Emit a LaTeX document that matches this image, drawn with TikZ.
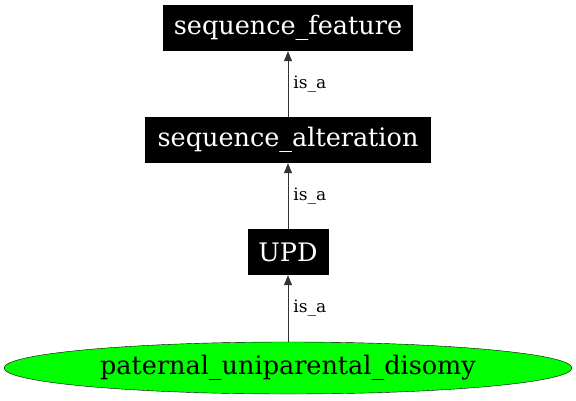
\documentclass[tikz,border=0pt]{standalone}
\usepackage{fontspec}
\setmainfont{DejaVu Serif}
\usetikzlibrary{arrows.meta,shapes.geometric}
\tikzset{
  termbox/.style={rectangle, fill=black, text=white, inner sep=0pt, minimum height=46pt, font=\fontsize{25.5}{30}\selectfont},
  termell/.style={ellipse, draw=black, fill={rgb,255:red,0;green,255;blue,0}, inner sep=0pt, minimum width=568pt, minimum height=52pt, font=\fontsize{25.5}{30}\selectfont},
  isa/.style={draw=black!80, line width=0.9pt, -{Triangle[length=10pt,width=8pt]}},
  lab/.style={font=\fontsize{17}{20}\selectfont, anchor=west, inner sep=0pt}
}
\begin{document}
\begin{tikzpicture}[x=1pt,y=-1pt]
\useasboundingbox (0,0) rectangle (576,400);
\node[termbox, minimum width=250pt] (sf) at (288,28) {sequence\_feature};
\node[termbox, minimum width=286pt] (sa) at (288,140) {sequence\_alteration};
\node[termbox, minimum width=81pt] (upd) at (288,252) {UPD};
\node[termell] (pud) at (288,368) {paternal\_uniparental\_disomy};
\draw[isa] (sa.north) -- node[lab, xshift=5pt] {is\_a} (sf.south);
\draw[isa] (upd.north) -- node[lab, xshift=5pt] {is\_a} (sa.south);
\draw[isa] (pud.north) -- node[lab, xshift=5pt] {is\_a} (upd.south);
\end{tikzpicture}
\end{document}
